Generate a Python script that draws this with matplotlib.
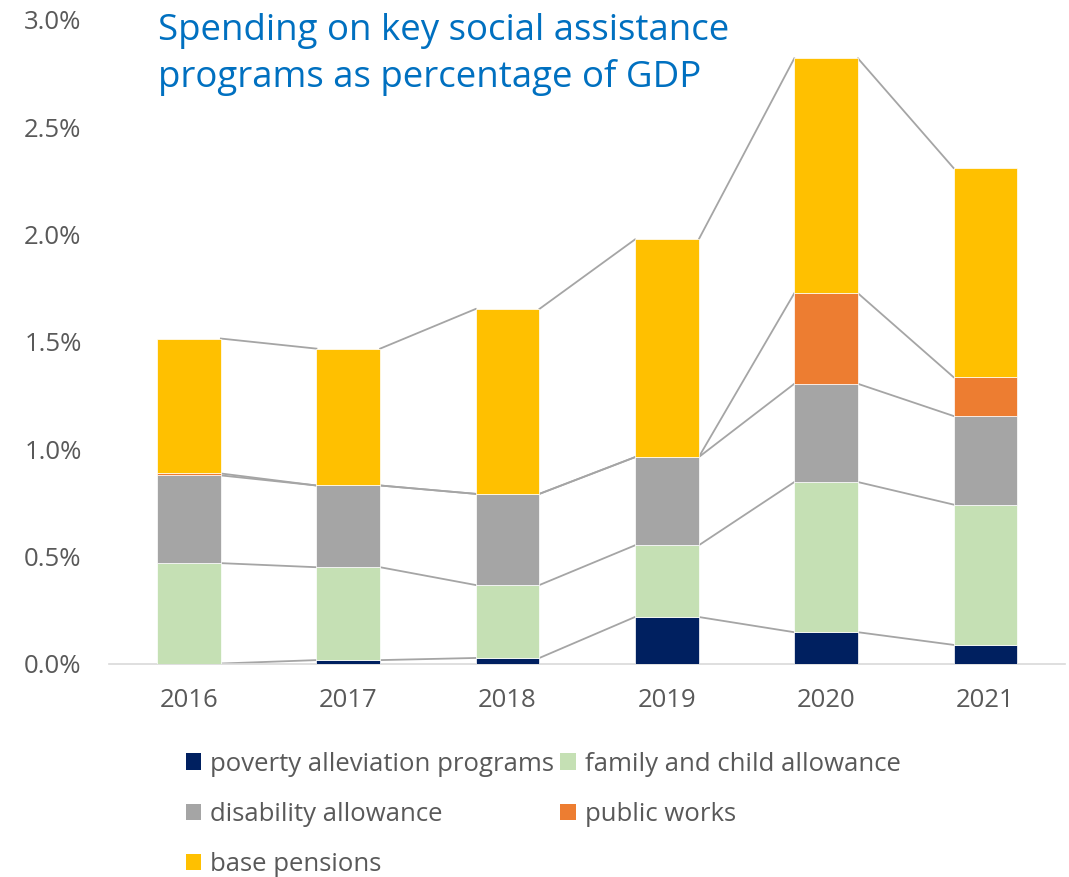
import numpy as np
import matplotlib.pyplot as plt
from matplotlib.patches import Patch

plt.rcParams['font.family'] = ['Open Sans', 'DejaVu Sans']

years = ['2016', '2017', '2018', '2019', '2020', '2021']

# share of GDP, in percent
poverty = [0.000, 0.016, 0.026, 0.217, 0.146, 0.087]
family = [0.468, 0.433, 0.340, 0.334, 0.700, 0.654]
disability = [0.409, 0.381, 0.425, 0.411, 0.458, 0.413]
public_works = [0.009, 0.000, 0.000, 0.000, 0.422, 0.181]
base_pensions = [0.629, 0.638, 0.862, 1.015, 1.095, 0.975]

series = [
    ('poverty alleviation programs', poverty, '#002060'),
    ('family and child allowance', family, '#C5E0B4'),
    ('disability allowance', disability, '#A5A5A5'),
    ('public works', public_works, '#ED7D31'),
    ('base pensions', base_pensions, '#FFC000'),
]

TEXT_GREY = '#595959'
BAR_WIDTH = 0.4

fig = plt.figure(figsize=(10.69, 8.77), dpi=100)
ax = fig.add_axes([0.1023, 0.2434, 0.894, 0.7338])

x = np.arange(len(years))
bottom = np.zeros(len(years))
handles = {}
for name, values, color in series:
    values = np.array(values)
    ax.bar(x, values, BAR_WIDTH, bottom=bottom, color=color,
           edgecolor='white', linewidth=0.5, zorder=3)
    top = bottom + values
    # series lines joining the segment tops of neighbouring bars
    for i in range(len(years) - 1):
        ax.plot([x[i] + BAR_WIDTH / 2, x[i + 1] - BAR_WIDTH / 2],
                [top[i], top[i + 1]], color='#A5A5A5', lw=1.3, zorder=2)
    handles[name] = Patch(facecolor=color, edgecolor='none')
    bottom = top

ax.set_xlim(-0.5, len(years) - 0.5)
ax.set_ylim(0, 3.0)
ax.set_yticks(np.arange(0, 3.01, 0.5))
ax.set_yticklabels([f'{v:.1f}%' for v in np.arange(0, 3.01, 0.5)])
ax.set_xticks(x)
ax.set_xticklabels(years)
ax.tick_params(axis='both', length=0, labelsize=18.5, colors=TEXT_GREY)
ax.tick_params(axis='y', pad=20)
ax.tick_params(axis='x', pad=17.5)
for side in ['top', 'right', 'left']:
    ax.spines[side].set_visible(False)
ax.spines['bottom'].set_color('#D9D9D9')
ax.spines['bottom'].set_linewidth(1.2)

fig.text(0.148, 0.9857, 'Spending on key social assistance\nprograms as percentage of GDP',
         color='#0070C0', fontsize=26.4, va='top', ha='left', linespacing=1.38)

# column-major order so the rows read across
order = ['poverty alleviation programs', 'disability allowance', 'base pensions',
         'family and child allowance', 'public works']
leg = fig.legend([handles[n] for n in order], order, ncol=2, frameon=False,
                 loc='upper left', bbox_to_anchor=(0.174, 0.1430),
                 fontsize=18.5, handlelength=0.6, handleheight=0.6,
                 handletextpad=0.35, columnspacing=0.23, labelspacing=0.98,
                 borderaxespad=0, borderpad=0)
for t in leg.get_texts():
    t.set_color(TEXT_GREY)

fig.savefig('out.png', dpi=100)
